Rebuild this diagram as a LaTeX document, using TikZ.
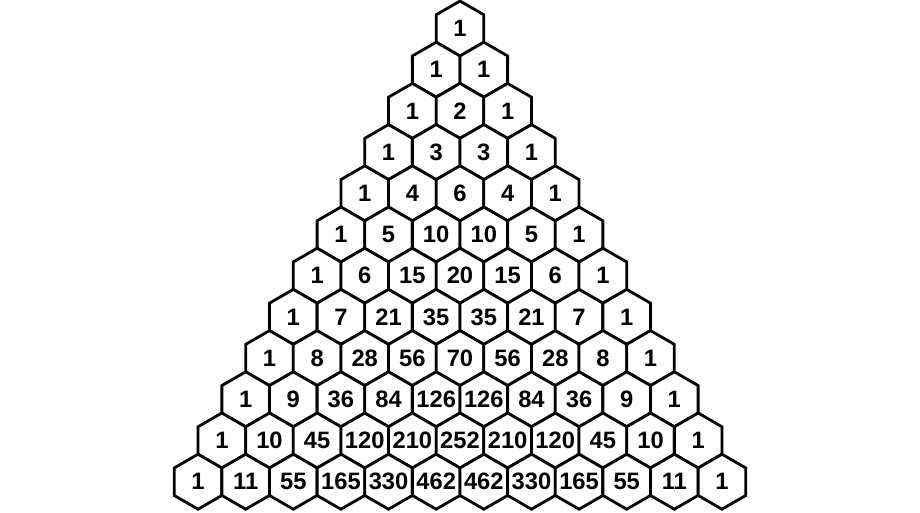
\documentclass[tikz,border=0pt]{standalone}
\usepackage{fontspec}
\setmainfont{Liberation Sans}
\usetikzlibrary{shapes.geometric}

\begin{document}
\begin{tikzpicture}[
  x=0.02cm, y=-0.02cm,
  hexcell/.style={regular polygon, regular polygon sides=6, shape border rotate=30,
    draw, line width=1.6pt, fill=white, inner sep=0pt, minimum size=1.1cm},
  numtext/.style={font=\bfseries\fontsize{13.5}{13.5}\selectfont, inner sep=0pt}
]
\fill[white] (0,0) rectangle (920,512);
\useasboundingbox (0,0) rectangle (920,512);
% rows of the triangle
\foreach \row [count=\n from 0] in {
  {1},
  {1,1},
  {1,2,1},
  {1,3,3,1},
  {1,4,6,4,1},
  {1,5,10,10,5,1},
  {1,6,15,20,15,6,1},
  {1,7,21,35,35,21,7,1},
  {1,8,28,56,70,56,28,8,1},
  {1,9,36,84,126,126,84,36,9,1},
  {1,10,45,120,210,252,210,120,45,10,1},
  {1,11,55,165,330,462,462,330,165,55,11,1}} {
  \foreach \val [count=\k from 0] in \row {
    \node[hexcell, label={[numtext]center:\val}] (h\n-\k)
      at ({460+(\k-\n/2)*47.63},{28.5+\n*41.2}) {};
  }
}
\end{tikzpicture}
\end{document}
